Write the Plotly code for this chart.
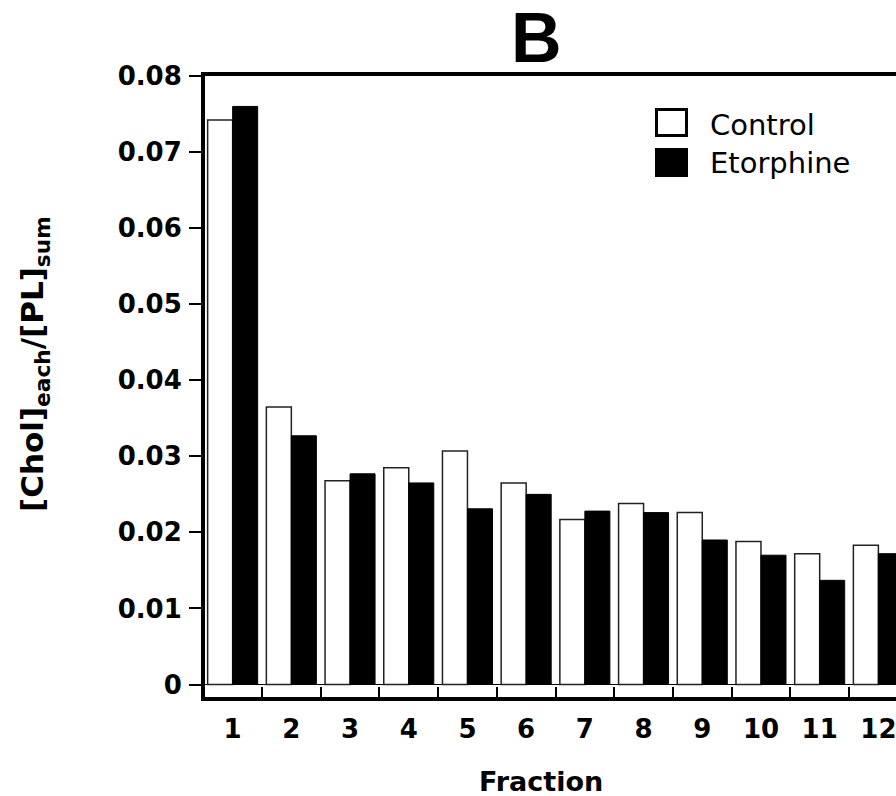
import plotly.graph_objects as go

fractions = ["1", "2", "3", "4", "5", "6", "7", "8", "9", "10", "11", "12"]
control = [0.0742, 0.0365, 0.0268, 0.0285, 0.0307, 0.0265, 0.0217, 0.0238, 0.0226, 0.0188, 0.0172, 0.0183]
etorphine = [0.0760, 0.0327, 0.0277, 0.0265, 0.0231, 0.0250, 0.0228, 0.0226, 0.0190, 0.0170, 0.0137, 0.0172]
y_ticks = [0, 0.01, 0.02, 0.03, 0.04, 0.05, 0.06, 0.07, 0.08]
y_tick_text = ["0", "0.01", "0.02", "0.03", "0.04", "0.05", "0.06", "0.07", "0.08"]

W, H = 896, 796
ML, MR, MT, MB = 205, 0, 76, 99
PW, PH = W - ML - MR, H - MT - MB


def px(x):
    return (x - ML) / PW


def py(y):
    return (H - MB - y) / PH


fig = go.Figure()
fig.add_trace(go.Bar(x=fractions, y=control, name="Control",
                     marker=dict(color="white", line=dict(color="#222222", width=1.5)),
                     showlegend=False))
fig.add_trace(go.Bar(x=fractions, y=etorphine, name="Etorphine",
                     marker=dict(color="black", line=dict(color="black", width=1)),
                     showlegend=False))

bold = dict(family="DejaVu Sans", size=26, color="black", weight="bold")

fig.update_layout(
    width=W, height=H,
    margin=dict(l=ML, r=MR, t=MT, b=MB, pad=0),
    paper_bgcolor="white", plot_bgcolor="white",
    barmode="group", bargap=0.148, bargroupgap=0,
    showlegend=False,
    xaxis=dict(
        type="category", range=[-0.471, 11.30],
        showline=True, linecolor="black", linewidth=4, mirror=True,
        ticks="inside", tickson="boundaries", ticklen=10, tickwidth=1.5, tickcolor="black",
        showgrid=False, tickfont=bold, ticklabelstandoff=6,
    ),
    yaxis=dict(
        range=[-0.00164, 0.0800],
        tickvals=y_ticks, ticktext=y_tick_text,
        showline=True, linecolor="black", linewidth=4,
        ticks="outside", ticklen=12, tickwidth=1.5, tickcolor="black",
        showgrid=False, zeroline=True, zerolinecolor="black", zerolinewidth=1,
        tickfont=bold, ticklabelstandoff=2,
    ),
)

annotations = [
    dict(text="B", x=px(536), y=py(38), xref="paper", yref="paper", showarrow=False,
         xanchor="center", yanchor="middle",
         font=dict(family="Liberation Sans", size=70, color="black", weight="bold")),
    dict(text="Fraction", x=px(541), y=py(781), xref="paper", yref="paper", showarrow=False,
         xanchor="center", yanchor="middle", font=dict(family="DejaVu Sans", size=27, color="black", weight="bold")),
    dict(text="[Chol]<sub>each</sub>/[PL]<sub>sum</sub>", x=px(35), y=py(364), xref="paper", yref="paper",
         showarrow=False, textangle=-90, xanchor="center", yanchor="middle",
         font=dict(family="DejaVu Sans", size=31, color="black", weight="bold")),
    dict(text="Control", x=px(708), y=py(125), xref="paper", yref="paper", showarrow=False,
         xanchor="left", yanchor="middle", font=dict(family="DejaVu Sans", size=29, color="black")),
    dict(text="Etorphine", x=px(708), y=py(163), xref="paper", yref="paper", showarrow=False,
         xanchor="left", yanchor="middle", font=dict(family="DejaVu Sans", size=29, color="black")),
]
fig.update_layout(annotations=annotations)

fig.add_shape(type="rect", xref="paper", yref="paper",
              x0=px(656.5), x1=px(686.5), y0=py(109.5), y1=py(135.5),
              line=dict(color="black", width=3), fillcolor="white")
fig.add_shape(type="rect", xref="paper", yref="paper",
              x0=px(655), x1=px(688), y0=py(148), y1=py(177),
              line=dict(color="black", width=0), fillcolor="black")

fig.write_html(
    "out.html",
    config={"displayModeBar": False},
    post_script="document.body.style.margin='0';document.body.style.overflow='hidden';",
)
